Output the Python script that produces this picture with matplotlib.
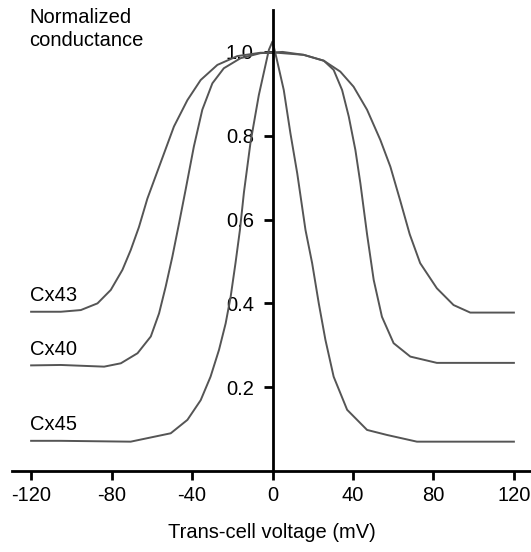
import matplotlib
matplotlib.use("Agg")
import matplotlib.pyplot as plt

plt.rcParams['font.family'] = ['Liberation Sans', 'DejaVu Sans']

# values (trans-cell voltage in mV, normalized conductance)
cx43_v = [-120, -105.2, -95.3, -87, -80.4, -74.6, -70.5, -66.4, -62.2, -55.6, -49, -42.3, -35.7, -27.4,
          -17.5, -6, 2.3, 15.5, 25.5, 33.7, 40.3, 47, 53.6, 58.6, 63.5, 68.2, 73.4, 81.7, 90, 98.3, 120]
cx43_g = [0.380, 0.380, 0.384, 0.400, 0.432, 0.480, 0.527, 0.582, 0.650, 0.736, 0.822, 0.885, 0.933, 0.969,
          0.990, 0.998, 0.998, 0.993, 0.979, 0.953, 0.917, 0.862, 0.790, 0.726, 0.645, 0.565, 0.496, 0.436,
          0.396, 0.378, 0.378]

cx40_v = [-120, -105.2, -83.7, -75.4, -67.1, -60.5, -56.4, -53.1, -49.8, -46.5, -43.2, -39.1, -34.9, -29.9,
          -24.2, -15.9, -6, 5, 15.5, 25.5, 30.4, 34.6, 37.9, 41.2, 43.7, 47, 50.3, 54.4, 60.2, 68.5, 81.7, 120]
cx40_g = [0.252, 0.253, 0.249, 0.257, 0.281, 0.321, 0.376, 0.440, 0.511, 0.590, 0.671, 0.774, 0.862, 0.925,
          0.961, 0.985, 0.997, 1.0, 0.993, 0.979, 0.957, 0.909, 0.846, 0.766, 0.686, 0.565, 0.456, 0.368,
          0.305, 0.273, 0.258, 0.258]

cx45_v = [-120, -105.2, -70.5, -50.6, -42.3, -35.7, -30.8, -26.6, -23.3, -20.8, -18.4, -16.2, -14.2, -10.9,
          -6.8, -1.8, 0, 2, 5.6, 8.9, 12.3, 16.4, 19.7, 23, 26.3, 30.4, 37.1, 47, 56.9, 71.8, 120]
cx45_g = [0.072, 0.072, 0.070, 0.090, 0.122, 0.169, 0.225, 0.289, 0.352, 0.416, 0.496, 0.575, 0.665, 0.785,
          0.897, 1.005, 1.025, 0.985, 0.909, 0.806, 0.710, 0.575, 0.496, 0.400, 0.313, 0.225, 0.146, 0.098,
          0.086, 0.070, 0.070]

names = ["Cx43", "Cx40", "Cx45"]
label_y = [0.418, 0.289, 0.110]

xticks = [-120, -80, -40, 0, 40, 80, 120]
yticks = [0.2, 0.4, 0.6, 0.8, 1.0]

fig = plt.figure(figsize=(5.31, 5.52), dpi=100)
ax = fig.add_axes([12/531, 81/552, 519/531, 461/552])

for v, g in [(cx43_v, cx43_g), (cx40_v, cx40_g), (cx45_v, cx45_g)]:
    ax.plot(v, g, color="#555555", lw=1.4, solid_joinstyle="round")

for name, y in zip(names, label_y):
    ax.text(-120.8, y, name, fontsize=14.5, ha="left", va="center")

ax.text(-120.8, 1.105, "Normalized\nconductance", fontsize=14.5, ha="left", va="top", linespacing=1.25)

ax.set_xlim(-129.5, 128.5)
ax.set_ylim(0, 1.1)
ax.spines["left"].set_position(("data", 0))
ax.spines["bottom"].set_position(("data", 0))
ax.spines["top"].set_visible(False)
ax.spines["right"].set_visible(False)
for s in ["left", "bottom"]:
    ax.spines[s].set_linewidth(2)

ax.set_xticks(xticks)
ax.set_xticklabels([str(t) for t in xticks])
ax.set_yticks(yticks)
ax.set_yticklabels(["%.1f" % t for t in yticks])
ax.tick_params(axis="both", direction="out", length=6.5, width=2, labelsize=14.5)
ax.tick_params(axis="x", pad=4)
ax.tick_params(axis="y", pad=7)

fig.text(272/531, 1 - 532/552, "Trans-cell voltage (mV)", fontsize=14.5, ha="center", va="center")

plt.savefig("out.png", dpi=100)
